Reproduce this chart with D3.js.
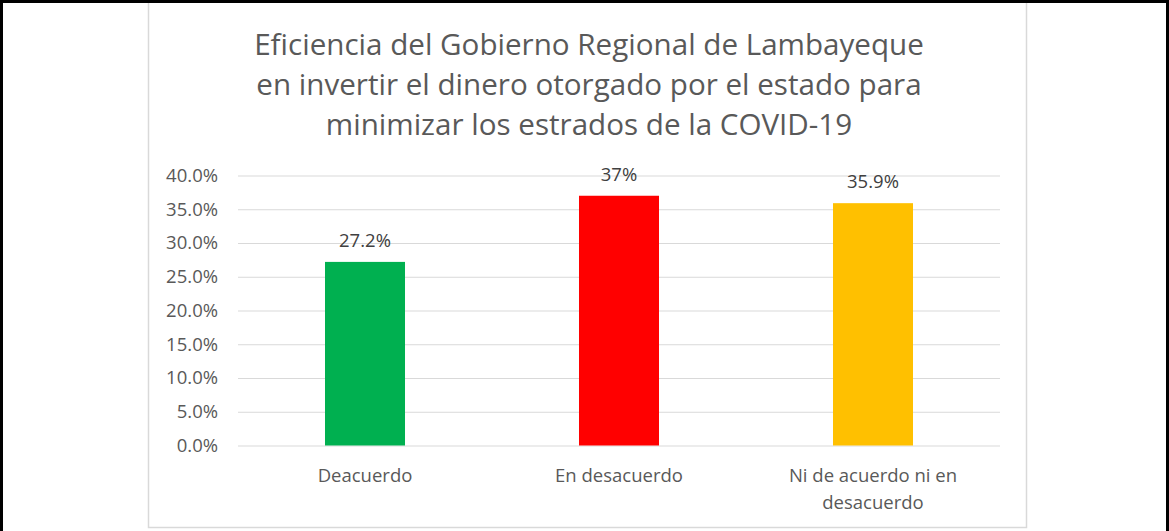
<!DOCTYPE html>
<html>
<head>
<meta charset="utf-8">
<script src="https://cdn.jsdelivr.net/npm/d3@7"></script>
<style>
  body { margin: 0; background: #fff; }
  text { font-family: "Open Sans", sans-serif; }
</style>
</head>
<body>
<div id="chart"></div>
<script>
// data
const titleLines = [
    "Eficiencia del Gobierno Regional de Lambayeque",
    "en invertir el dinero otorgado por el estado para",
    "minimizar los estrados de la COVID-19"
];
const categories = ["Deacuerdo", "En desacuerdo", "Ni de acuerdo ni en desacuerdo"];
const values = [27.2, 37, 35.9];
const valueLabels = ["27.2%", "37%", "35.9%"];
const barColors = ["#00B050", "#FF0000", "#FFC000"];
const yTicks = [0, 5, 10, 15, 20, 25, 30, 35, 40];

const W = 1169, H = 531;
const plot = { left: 238, right: 1000, top: 175.5, bottom: 445.5 };

const svg = d3.select("#chart").append("svg")
    .attr("width", W).attr("height", H);

// outer frames
svg.append("rect")
    .attr("x", 148.5).attr("y", -5)
    .attr("width", 878).attr("height", 532.5)
    .attr("fill", "#fff")
    .attr("stroke", "#D9D9D9").attr("stroke-width", 1.5);

svg.append("rect")
    .attr("x", 1.5).attr("y", 1.5)
    .attr("width", 1166).attr("height", 600)
    .attr("fill", "none")
    .attr("stroke", "#000").attr("stroke-width", 3);

// title
svg.append("g")
    .selectAll("text")
    .data(titleLines)
    .enter()
    .append("text")
    .attr("x", 589)
    .attr("y", (d, i) => 55 + i * 40)
    .attr("text-anchor", "middle")
    .attr("font-size", 29.6)
    .attr("fill", "#595959")
    .text(d => d);

// scales
var x = d3.scaleBand()
    .domain(categories)
    .range([plot.left, plot.right])
    .paddingInner(0.685)
    .paddingOuter(0.3425);

var y = d3.scaleLinear()
    .domain([0, 40])
    .range([plot.bottom, plot.top]);

// gridlines + y labels
var yAxis = svg.append("g")
    .attr("transform", `translate(${plot.left},0)`)
    .call(d3.axisLeft(y)
        .tickValues(yTicks)
        .tickSize(-(plot.right - plot.left))
        .tickPadding(20)
        .tickFormat(d => d3.format(".1f")(d) + "%"));

yAxis.select(".domain").remove();
yAxis.selectAll(".tick line").attr("stroke", "#D9D9D9").attr("stroke-width", 1.2);
yAxis.selectAll(".tick text")
    .attr("font-family", "Open Sans")
    .attr("font-size", 18.5)
    .attr("fill", "#595959");

// bars
svg.append("g")
    .selectAll("rect")
    .data(values)
    .enter()
    .append("rect")
    .attr("x", (d, i) => x(categories[i]))
    .attr("y", d => y(d))
    .attr("width", x.bandwidth())
    .attr("height", d => y(0) - y(d))
    .attr("fill", (d, i) => barColors[i]);

// value labels
svg.append("g")
    .selectAll("text")
    .data(values)
    .enter()
    .append("text")
    .attr("x", (d, i) => x(categories[i]) + x.bandwidth() / 2)
    .attr("y", d => y(d) - 15)
    .attr("text-anchor", "middle")
    .attr("font-size", 18.5)
    .attr("fill", "#404040")
    .text((d, i) => valueLabels[i]);

// category labels (wrapped)
var catg = svg.append("g");
categories.forEach(function(name) {
    var t = catg.append("text")
        .attr("x", x(name) + x.bandwidth() / 2)
        .attr("y", 482)
        .attr("text-anchor", "middle")
        .attr("font-size", 18.5)
        .attr("fill", "#595959");
    var words = name.split(" "), line = [];
    var tspan = t.append("tspan").attr("x", x(name) + x.bandwidth() / 2);
    words.forEach(function(w) {
        line.push(w);
        tspan.text(line.join(" "));
        if (tspan.node().getComputedTextLength() > 205 && line.length > 1) {
            line.pop();
            tspan.text(line.join(" "));
            line = [w];
            tspan = t.append("tspan")
                .attr("x", x(name) + x.bandwidth() / 2)
                .attr("dy", 27)
                .text(w);
        }
    });
});
</script>
</body>
</html>
